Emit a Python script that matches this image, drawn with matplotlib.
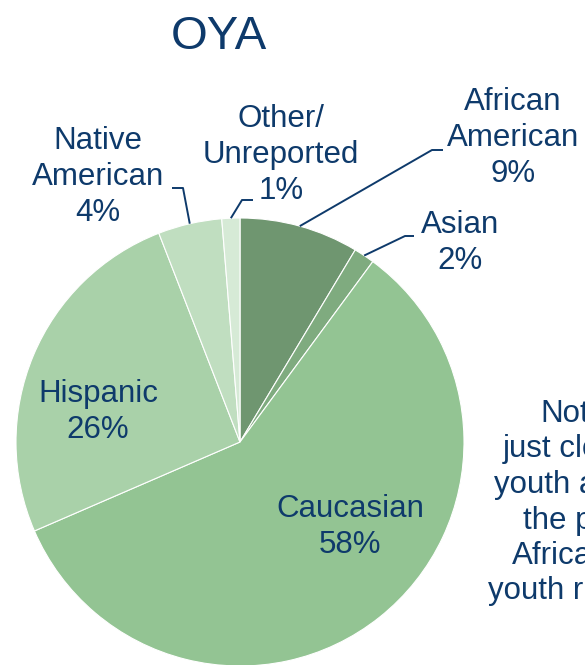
import numpy as np
import matplotlib
matplotlib.use("Agg")
import matplotlib.pyplot as plt

plt.rcParams['font.family'] = ['Liberation Sans', 'DejaVu Sans']

categories = ["African\nAmerican", "Asian", "Caucasian", "Hispanic", "Native\nAmerican", "Other/\nUnreported"]
shares = [8.6, 1.5, 58.4, 25.6, 4.6, 1.3]
pct_labels = ["9%", "2%", "58%", "26%", "4%", "1%"]
colors = ["#6F9670", "#7FAB7F", "#93C493", "#A9D1A9", "#C0DEC0", "#D6EAD6"]
note_lines = ["Note:", "just close to", "youth average", "the percent", "African", "youth rising"]

W, H = 585, 665
fig = plt.figure(figsize=(W / 100, H / 100), dpi=100)
ax = fig.add_axes([0, 0, 1, 1])

navy = "#0E3A6B"
cx, cy, R = 240, H - 442, 224

wedges, _ = ax.pie(shares, colors=colors, startangle=90, counterclock=False,
                   center=(cx, cy), radius=R, frame=True,
                   wedgeprops=dict(edgecolor='white', linewidth=0.8))
ax.set_xlim(0, W)
ax.set_ylim(0, H)
ax.set_aspect('equal')
ax.axis('off')

fs = 22.5
ax.text(219, H - 37, "OYA", ha='center', va='center', fontsize=34, color=navy)

# label centres (pixel coords, y from top) and leader line geometry
label_pos = [(513, 138), (460, 243), (350, 527), (98, 412), (98, 177), (281, 155)]
leaders = {0: [(432, 150), (443, 150)],
           1: [(405, 236), (414, 236)],
           4: [(183, 188), (172, 188)],
           5: [(242, 200), (253, 200)]}

for i, (w, cat, pl) in enumerate(zip(wedges, categories, pct_labels)):
    x, y = label_pos[i]
    ax.text(x, H - y, cat + "\n" + pl, ha='center', va='center', fontsize=fs,
            color=navy, linespacing=1.25)
    if i in leaders:
        mid = np.deg2rad((w.theta1 + w.theta2) / 2)
        sx, sy = cx + R * np.cos(mid), cy + R * np.sin(mid)
        pts = [(sx, sy)] + [(px, H - py) for px, py in leaders[i]]
        xs, ys = zip(*pts)
        ax.plot(xs, ys, color=navy, linewidth=1.4, solid_capstyle='butt')

# right-hand note, clipped by the figure edge as in the source slide
note_x = [540, 503, 494, 523, 512, 488]
for k, (line, nx) in enumerate(zip(note_lines, note_x)):
    ax.text(nx, H - (414 + k * 35.5), line, ha='left', va='center',
            fontsize=fs, color=navy)

fig.savefig("out.png", dpi=100)
